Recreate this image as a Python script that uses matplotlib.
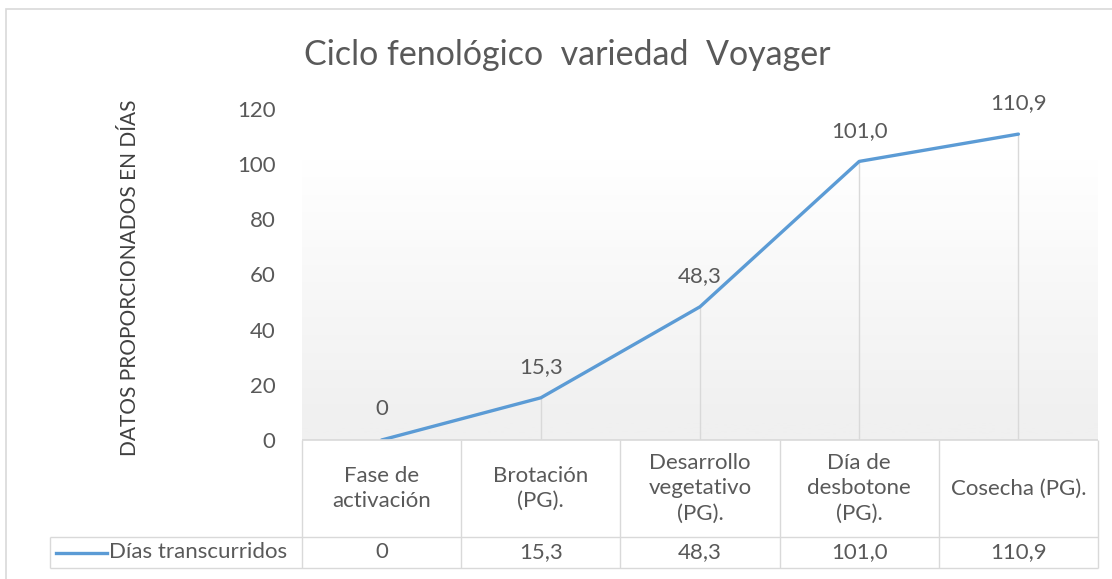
import numpy as np
import matplotlib
matplotlib.use("Agg")
import matplotlib.pyplot as plt
from matplotlib.patches import Rectangle

# data
categories = ["Fase de\nactivación", "Brotación\n(PG).", "Desarrollo\nvegetativo\n(PG).",
              "Día de\ndesbotone\n(PG).", "Cosecha (PG)."]
dias = [0, 15.3, 48.3, 101.0, 110.9]
dias_labels = ["0", "15,3", "48,3", "101,0", "110,9"]
series_name = "Días transcurridos"
yticks = [0, 20, 40, 60, 80, 100, 120]

W, H = 1112, 579
plt.rcParams['font.family'] = ['Lato', 'DejaVu Sans']
text_col = "#595959"
grid_col = "#d9d9d9"
line_col = "#5b9bd5"
fs = 16

fig = plt.figure(figsize=(W / 100, H / 100), dpi=100)

def px_axes(x0, y0, x1, y1):
    return fig.add_axes([x0 / W, 1 - y1 / H, (x1 - x0) / W, (y1 - y0) / H])

# outer chart border (cropped at right and bottom)
fig.patches.append(Rectangle((6 / W, -0.1), 1.2, 1 - 9 / H + 0.1, transform=fig.transFigure,
                             fill=False, edgecolor=grid_col, lw=1.2))

# main plot area
ax = px_axes(302, 109, 1098, 440)
x = np.arange(len(categories))
ax.set_xlim(-0.5, len(categories) - 0.5)
ax.set_ylim(0, 120)

# gradient background
grad = np.linspace(0, 1, 256).reshape(-1, 1)
grad = np.clip((grad - 0.05) / 0.8, 0, 1)
cmap = matplotlib.colors.LinearSegmentedColormap.from_list("g", ["#f0f0f0", "#ffffff"])
ax.imshow(grad, extent=(-0.5, len(categories) - 0.5, 0, 120), origin="lower",
          aspect="auto", cmap=cmap, zorder=0)

# drop lines
ax.vlines(x, 0, dias, color=grid_col, lw=1, zorder=1)
ax.plot(x, dias, color=line_col, lw=2.4, solid_capstyle="round", zorder=3)
for xi, yi, lab in zip(x, dias, dias_labels):
    ax.annotate(lab, (xi, yi), xytext=(0, 22), textcoords="offset points",
                ha="center", va="center", fontsize=fs, color=text_col)

ax.set_yticks(yticks)
ax.set_yticklabels([str(t) for t in yticks], fontsize=fs, color=text_col)
ax.tick_params(axis="y", length=0, pad=19)
ax.set_xticks([])
for s in ax.spines.values():
    s.set_visible(False)

fig.text(130 / W, 1 - 278 / H, "DATOS PROPORCIONADOS EN DÍAS", rotation=90,
         ha="center", va="center", fontsize=15, color="#404040")
fig.text(567 / W, 1 - 55 / H, "Ciclo fenológico  variedad  Voyager", ha="center",
         va="center", fontsize=24.5, color=text_col)

# data table below the plot
tax = px_axes(302, 440, 1098, 568)
tax.set_xlim(-0.5, len(categories) - 0.5)
tax.set_ylim(0, 128)
tax.axis("off")
split = 31
left_edge = -0.5 - (302 - 50) / (796 / len(categories))
edges = np.arange(len(categories) + 1) - 0.5
tax.vlines(edges, 0, 128, color=grid_col, lw=1, clip_on=False)
tax.vlines([left_edge], 0, split, color=grid_col, lw=1, clip_on=False)
tax.hlines([128], -0.5, edges[-1], color=grid_col, lw=1.2, clip_on=False)
tax.hlines([0, split], left_edge, edges[-1], color=grid_col, lw=1, clip_on=False)
for xi, cat, lab in zip(x, categories, dias_labels):
    tax.text(xi, (128 + split) / 2, cat, ha="center", va="center", fontsize=fs,
             color=text_col, linespacing=1.32)
    tax.text(xi, split / 2, lab, ha="center", va="center", fontsize=fs, color=text_col)
# legend key inside the row header
key_x0 = left_edge + 6 / 159.2
key_x1 = left_edge + 57 / 159.2
tax.plot([key_x0, key_x1], [split / 2, split / 2], color=line_col, lw=2.4, clip_on=False)
tax.text(key_x1 + 2 / 159.2, split / 2, series_name, ha="left", va="center",
         fontsize=fs, color=text_col)

fig.savefig("out.png", dpi=100)
